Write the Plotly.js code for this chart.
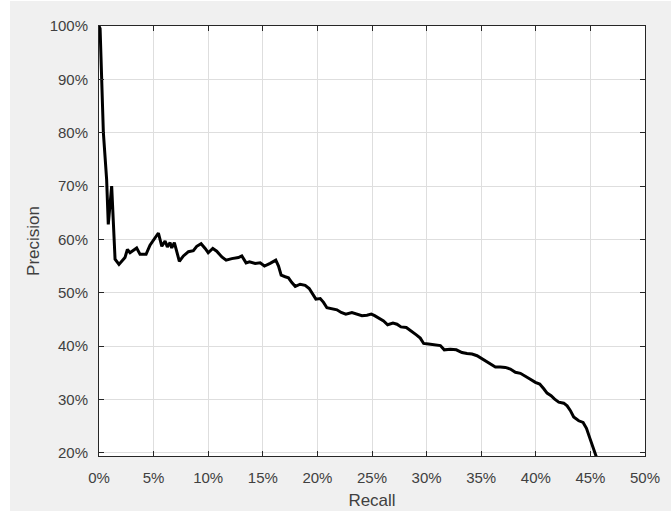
<!DOCTYPE html>
<html>
<head>
<meta charset="utf-8">
<script src="https://cdn.plot.ly/plotly-3.0.1.min.js"></script>
<style>
html,body{margin:0;padding:0;background:#ffffff;}
#chart{position:absolute;left:10px;top:1px;width:661px;height:510px;}
</style>
</head>
<body>
<div id="chart"></div>
<script>
// Recall (fraction) and Precision (fraction)
const recall = [0.000, 0.001, 0.004, 0.007, 0.0085, 0.0116, 0.0147, 0.0183, 0.0238, 0.026, 0.0284, 0.0345, 0.0376, 0.0431, 0.0467, 0.0513, 0.0544, 0.0575, 0.0605, 0.0626, 0.0651, 0.0666, 0.069, 0.0736, 0.0773, 0.0819, 0.0864, 0.0895, 0.0935, 0.0972, 0.100, 0.1042, 0.1078, 0.1125, 0.1164, 0.1216, 0.1277, 0.1308, 0.1347, 0.1378, 0.143, 0.1476, 0.1515, 0.1567, 0.1619, 0.1644, 0.1668, 0.1705, 0.1735, 0.1766, 0.1797, 0.1842, 0.1888, 0.1925, 0.195, 0.1986, 0.2026, 0.2056, 0.2087, 0.2133, 0.2179, 0.2218, 0.226, 0.2316, 0.2362, 0.2408, 0.2454, 0.2493, 0.2524, 0.256, 0.2606, 0.2643, 0.2692, 0.2729, 0.2765, 0.2814, 0.2857, 0.2906, 0.2942, 0.2973, 0.3018, 0.308, 0.3126, 0.3162, 0.3217, 0.3272, 0.3324, 0.337, 0.3416, 0.3462, 0.3508, 0.3554, 0.3584, 0.363, 0.3675, 0.3721, 0.3767, 0.3813, 0.3859, 0.3905, 0.395, 0.3996, 0.4036, 0.4073, 0.4103, 0.414, 0.417, 0.421, 0.4256, 0.4287, 0.4317, 0.4347, 0.4393, 0.4433, 0.4464, 0.4494, 0.4525, 0.4555];
const precision = [1.000, 0.995, 0.80, 0.712, 0.628, 0.700, 0.563, 0.553, 0.566, 0.581, 0.575, 0.584, 0.572, 0.572, 0.589, 0.603, 0.612, 0.587, 0.597, 0.586, 0.594, 0.584, 0.594, 0.559, 0.569, 0.577, 0.579, 0.587, 0.592, 0.583, 0.575, 0.583, 0.578, 0.567, 0.561, 0.564, 0.566, 0.569, 0.556, 0.558, 0.555, 0.556, 0.550, 0.555, 0.561, 0.550, 0.533, 0.530, 0.528, 0.519, 0.512, 0.516, 0.514, 0.508, 0.500, 0.488, 0.489, 0.482, 0.472, 0.470, 0.468, 0.463, 0.460, 0.463, 0.460, 0.457, 0.458, 0.460, 0.457, 0.452, 0.447, 0.440, 0.443, 0.441, 0.436, 0.435, 0.429, 0.421, 0.415, 0.405, 0.404, 0.403, 0.401, 0.393, 0.394, 0.393, 0.388, 0.386, 0.385, 0.382, 0.376, 0.371, 0.367, 0.361, 0.361, 0.360, 0.357, 0.351, 0.349, 0.344, 0.338, 0.332, 0.329, 0.320, 0.312, 0.307, 0.301, 0.295, 0.293, 0.288, 0.279, 0.267, 0.260, 0.257, 0.246, 0.228, 0.209, 0.192];
const xTicks = [0, 0.05, 0.10, 0.15, 0.20, 0.25, 0.30, 0.35, 0.40, 0.45, 0.50];
const yTicks = [0.2, 0.3, 0.4, 0.5, 0.6, 0.7, 0.8, 0.9, 1.0];

const fontFam = 'Liberation Sans, Arial, sans-serif';
const trace = {
  x: recall, y: precision, type: 'scatter', mode: 'lines',
  line: {color: '#000000', width: 3}, hoverinfo: 'skip'
};
const axisCommon = {
  showline: true, linecolor: '#262626', linewidth: 1, mirror: 'ticks',
  ticks: 'inside', ticklen: 5, tickcolor: '#262626', tickwidth: 1,
  showgrid: true, gridcolor: '#dedede', gridwidth: 1, zeroline: false,
  tickformat: '.0%', tickfont: {family: fontFam, size: 15, color: '#404040'},
  tickmode: 'array', fixedrange: true
};
const layout = {
  width: 661, height: 510,
  paper_bgcolor: '#f0f0f0', plot_bgcolor: '#ffffff',
  margin: {l: 89, r: 26, t: 25, b: 55},
  showlegend: false,
  xaxis: Object.assign({}, axisCommon, {
    range: [0, 0.5], tickvals: xTicks, ticklabelstandoff: 8,
    title: {text: 'Recall', standoff: 9, font: {family: fontFam, size: 17, color: '#404040'}}
  }),
  yaxis: Object.assign({}, axisCommon, {
    range: [0.194, 1.0], tickvals: yTicks, ticklabelstandoff: 7,
    title: {text: 'Precision', standoff: 5, font: {family: fontFam, size: 17, color: '#404040'}}
  })
};
Plotly.newPlot('chart', [trace], layout, {displayModeBar: false, staticPlot: true});
</script>
</body>
</html>
